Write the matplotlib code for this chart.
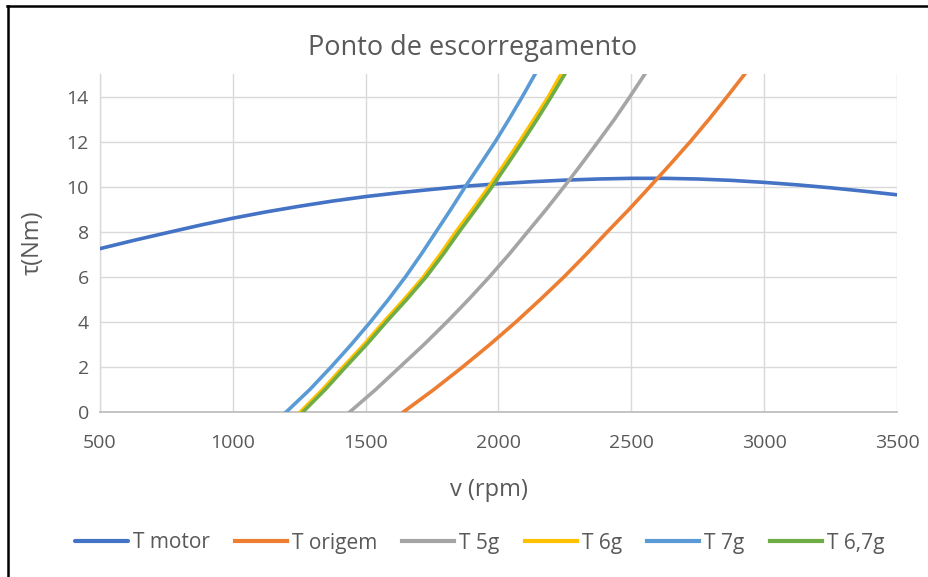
import matplotlib
matplotlib.use("Agg")
import matplotlib.pyplot as plt
from matplotlib.lines import Line2D

plt.rcParams['font.family'] = ['Open Sans', 'DejaVu Sans']

# Motor torque curve (rpm -> Nm)
motor_rpm = [500, 625, 750, 875, 1000, 1125, 1250, 1375, 1500, 1625, 1750, 1875, 2000,
             2125, 2250, 2375, 2500, 2625, 2750, 2875, 3000, 3125, 3250, 3375, 3500]
motor_torque = [7.25, 7.61, 7.95, 8.285, 8.60, 8.88, 9.13, 9.36, 9.56, 9.73, 9.88, 10.02, 10.13,
                10.22, 10.29, 10.34, 10.37, 10.37, 10.34, 10.28, 10.19, 10.08, 9.95, 9.80, 9.64]

# Load torque curves: rpm at which each torque level is reached
load_torque = [0, 1, 2, 3, 4, 5, 6, 7, 8, 9, 10, 11, 12, 13, 14, 15]
origem_rpm = [1642, 1757, 1865, 1968, 2066, 2158, 2247, 2330, 2410, 2492, 2570, 2647, 2722, 2793, 2861, 2927]
g5_rpm = [1440, 1538, 1629, 1720, 1806, 1888, 1966, 2040, 2110, 2180, 2247, 2312, 2375, 2437, 2495, 2551]
g6_rpm = [1254, 1338, 1415, 1494, 1568, 1645, 1718, 1781, 1840, 1903, 1964, 2022, 2079, 2134, 2188, 2236]
g7_rpm = [1201, 1290, 1370, 1446, 1518, 1586, 1650, 1709, 1765, 1821, 1875, 1932, 1988, 2040, 2090, 2138]
g67_rpm = [1264, 1348, 1425, 1504, 1578, 1655, 1728, 1792, 1852, 1915, 1976, 2034, 2091, 2146, 2199, 2250]

series_names = ["T motor", "T origem", "T 5g", "T 6g", "T 7g", "T 6,7g"]
series_colors = ["#4472C4", "#ED7D31", "#A5A5A5", "#FFC000", "#5B9BD5", "#70AD47"]

x_ticks = [500, 1000, 1500, 2000, 2500, 3000, 3500]
y_ticks = [0, 2, 4, 6, 8, 10, 12, 14]

W, H = 929, 577
fig = plt.figure(figsize=(W / 100, H / 100), dpi=100)
fig.patch.set_facecolor("white")

ax = fig.add_axes([100 / W, (H - 412) / H, (897 - 100) / W, (412 - 74) / H])

lw = 2.6
ax.plot(motor_rpm, motor_torque, color=series_colors[0], lw=lw, label=series_names[0],
        solid_capstyle="round", solid_joinstyle="round", zorder=3)
for rpm, name, col in zip([origem_rpm, g5_rpm, g6_rpm, g7_rpm, g67_rpm],
                          series_names[1:], series_colors[1:]):
    ax.plot(rpm, load_torque, color=col, lw=lw, label=name,
            solid_joinstyle="round", zorder=3)

ax.set_xlim(500, 3500)
ax.set_ylim(0, 15)
ax.set_xticks(x_ticks)
ax.set_yticks(y_ticks)
ax.grid(True, color="#D9D9D9", lw=1.0, zorder=0)
ax.set_axisbelow(True)
for s in ["top", "right"]:
    ax.spines[s].set_visible(False)
ax.spines["left"].set_color("#D9D9D9")
ax.spines["left"].set_linewidth(1.0)
ax.spines["bottom"].set_color("#BFBFBF")
ax.spines["bottom"].set_linewidth(1.3)
ax.tick_params(axis="both", length=0, colors="#595959", labelsize=14)
ax.tick_params(axis="x", pad=16)
ax.tick_params(axis="y", pad=8)

fig.text(473 / W, 1 - 48 / H, "Ponto de escorregamento", ha="center", va="center",
         fontsize=19.5, color="#595959")
fig.text(489 / W, 1 - 490 / H, "v (rpm)", ha="center", va="center",
         fontsize=17, color="#595959")
fig.text(33 / W, 1 - 243 / H, "τ(Nm)", ha="center", va="center", rotation=90,
         fontsize=17, color="#595959")

handles, labels = ax.get_legend_handles_labels()
leg = fig.legend(handles, labels, loc="center", bbox_to_anchor=(480 / W, 1 - 543 / H),
                 ncol=6, frameon=False, fontsize=15, handlelength=2.5,
                 handletextpad=0.25, columnspacing=1.2, labelcolor="#595959")
for h in leg.legend_handles:
    h.set_linewidth(3)

# chart frame edges
fig.add_artist(Line2D([7 / W, 1.0], [1 - 6 / H, 1 - 6 / H], color="black", lw=1.8,
                      transform=fig.transFigure))
fig.add_artist(Line2D([8 / W, 8 / W], [0.0, 1 - 6 / H], color="black", lw=1.8,
                      transform=fig.transFigure))

fig.savefig("out.png", dpi=100, facecolor="white")
